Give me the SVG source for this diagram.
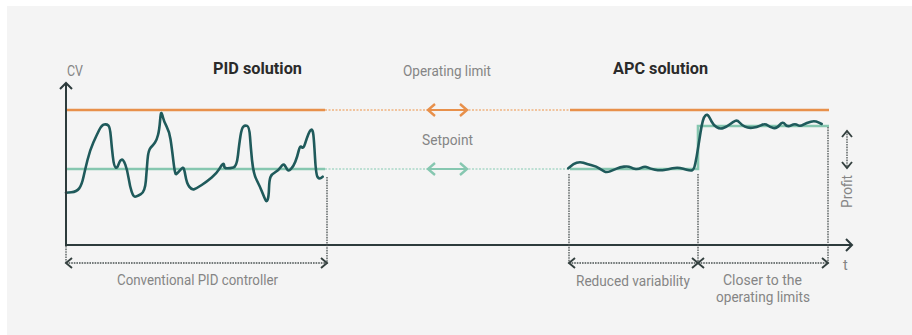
<svg xmlns="http://www.w3.org/2000/svg" width="912" height="335" viewBox="0 0 912 335">
  <style>
    .label { font-family: Roboto, "Liberation Sans", Arial, sans-serif; font-size: 14.5px; fill: #858585; }
    .title { font-family: Roboto, "Liberation Sans", Arial, sans-serif; font-size: 16.5px; font-weight: bold; fill: #2a2a2a; }
    .axis { stroke: #2d3b3c; stroke-width: 2; fill: none; }
    .limit { stroke: #e8904a; stroke-width: 2.6; fill: none; }
    .limit-dot { stroke: #efb27f; stroke-width: 1.6; stroke-dasharray: 2 1.5; fill: none; }
    .setpoint { stroke: #86c7b0; stroke-width: 2.6; fill: none; }
    .setpoint-dot { stroke: #a9d8c7; stroke-width: 1.6; stroke-dasharray: 2 1.5; fill: none; }
    .cv { stroke: #1f5a5b; stroke-width: 2.6; fill: none; stroke-linejoin: round; stroke-linecap: round; }
    .dim { stroke: #4a5252; stroke-width: 1.3; stroke-dasharray: 1.6 1; fill: none; }
  </style>
  <defs>
    <marker id="chev-dark" viewBox="-9 -7 11 14" markerWidth="11" markerHeight="14" markerUnits="userSpaceOnUse" refX="0" refY="0" orient="auto-start-reverse" overflow="visible">
      <path d="M-6,-5 L0,0 L-6,5" fill="none" stroke="#34403f" stroke-width="1.9"/>
    </marker>
    <marker id="chev-axis" viewBox="-9 -8 11 16" markerWidth="11" markerHeight="16" markerUnits="userSpaceOnUse" refX="0" refY="0" orient="auto" overflow="visible">
      <path d="M-6,-6 L0,0 L-6,6" fill="none" stroke="#2d3b3c" stroke-width="2"/>
    </marker>
    <marker id="chev-orange" viewBox="-9 -8 11 16" markerWidth="11" markerHeight="16" markerUnits="userSpaceOnUse" refX="0" refY="0" orient="auto-start-reverse" overflow="visible">
      <path d="M-7,-6 L0,0 L-7,6" fill="none" stroke="#e8904a" stroke-width="2.4"/>
    </marker>
    <marker id="chev-green" viewBox="-9 -8 11 16" markerWidth="11" markerHeight="16" markerUnits="userSpaceOnUse" refX="0" refY="0" orient="auto-start-reverse" overflow="visible">
      <path d="M-7,-6 L0,0 L-7,6" fill="none" stroke="#86c7b0" stroke-width="2.4"/>
    </marker>
  </defs>

  <!-- panel background -->
  <rect x="7" y="6" width="905" height="329" fill="#f4f4f4"/>

  <!-- reference levels: operating limit and setpoint -->
  <g id="levels">
    <line class="limit" x1="66" y1="110" x2="325" y2="110"/>
    <line class="limit-dot" x1="325" y1="110" x2="570" y2="110"/>
    <line class="limit" x1="570" y1="110" x2="829" y2="110"/>
    <line class="setpoint" x1="66" y1="169" x2="325" y2="169"/>
    <line class="setpoint-dot" x1="325" y1="169" x2="570" y2="169"/>
    <path class="setpoint" d="M570,169 H698 V126 H829"/>
  </g>

  <!-- controlled variable under PID control (smoothed through sample points) -->
  <g id="pid-curve">
    <path class="cv" d="M66,192.7 L71.35,192.2
      Q76.7,191.7 79.2,188.35 Q81.7,185 83.35,177.5 Q85,170 87.5,160 Q90,150 93.35,142.5
      Q96.7,135 99.2,130 Q101.7,125 104.2,124.5 Q106.7,124 108.35,125.5 Q110,127 110.85,136.85
      Q111.7,146.7 112.85,156.7 Q114,166.7 115.65,167.5 Q117.3,168.3 118.65,164.15 Q120,160 121.65,159.65
      Q123.3,159.3 125.3,164.65 Q127.3,170 128.65,178.35 Q130,186.7 131.65,191.7 Q133.3,196.7 135,196.7
      Q136.7,196.7 140.85,194.2 Q145,191.7 145.85,180.85 Q146.7,170 147.5,160 Q148.3,150 150.8,147.5
      Q153.3,145 155,142.5 Q156.7,140 158,135 Q159.3,130 160,121.35 Q160.7,112.7 161.35,113
      Q162,113.3 163,117.5 Q164,121.7 166.65,126.7 Q169.3,131.7 170.5,139.2 Q171.7,146.7 173.35,160.85
      Q175,175 176.15,174.15 Q177.3,173.3 179.5,170.8 Q181.7,168.3 182.85,167.8 Q184,167.3 185.35,175.3
      Q186.7,183.3 189.2,186.65 Q191.7,190 194.2,189.15 Q196.7,188.3 201.7,185 Q206.7,181.7 211.7,177.5
      Q216.7,173.3 219.2,169.15 Q221.7,165 222.85,164.15 Q224,163.3 224.15,165.8 Q224.3,168.3 227.15,168.3
      Q230,168.3 233.35,167.5 Q236.7,166.7 238,155 Q239.3,143.3 240.5,135.8 Q241.7,128.3 243.35,126.65
      Q245,125 247.15,125.85 Q249.3,126.7 250,136.7 Q250.7,146.7 252,160 Q253.3,173.3 256.65,180
      Q260,186.7 262,191.7 Q264,196.7 265.35,199.7 Q266.7,202.7 267.7,199.7 Q268.7,196.7 269,188.35
      Q269.3,180 270.5,177 Q271.7,174 275,172.35 Q278.3,170.7 280.8,167 Q283.3,163.3 284.65,165.3
      Q286,167.3 287.15,169.5 Q288.3,171.7 290.8,169.2 Q293.3,166.7 295.3,161.7 Q297.3,156.7 298.65,150.85
      Q300,145 301.65,147.15 Q303.3,149.3 305,143.8 Q306.7,138.3 308.35,134.15 Q310,130 311.35,129.65
      Q312.7,129.3 313.35,134.65 Q314,140 315,157.5 Q316,175 317.65,177.15 Q319.3,179.3 321,178
      L322.7,176.7"/>
  </g>

  <!-- controlled variable under APC (smoothed through sample points) -->
  <g id="apc-curve">
    <path class="cv" d="M568.3,168.3 L570.8,166.15
      Q573.3,164 576.65,162.85 Q580,161.7 583.35,162.85 Q586.7,164 591.7,165.35 Q596.7,166.7 599.2,168.35
      Q601.7,170 604.2,171.35 Q606.7,172.7 610,171.35 Q613.3,170 616.65,168.65 Q620,167.3 624.15,166.65
      Q628.3,166 630.8,167.35 Q633.3,168.7 635.8,169 Q638.3,169.3 641.65,167.65 Q645,166 647.5,167.35
      Q650,168.7 655,169.7 Q660,170.7 664.15,170 Q668.3,169.3 672.5,168.3 Q676.7,167.3 680,168
      Q683.3,168.7 686.65,169.7 Q690,170.7 692,170.35 Q694,170 695.35,163.35 Q696.7,156.7 698,148.35
      Q699.3,140 700.5,132.5 Q701.7,125 702.85,120.85 Q704,116.7 705.65,115.35 Q707.3,114 708.65,116.15
      Q710,118.3 711.65,121.65 Q713.3,125 716.65,127.15 Q720,129.3 723.35,128 Q726.7,126.7 730,124.2
      Q733.3,121.7 735.3,120.85 Q737.3,120 739.5,122.5 Q741.7,125 745,126.65 Q748.3,128.3 752.5,127.8
      Q756.7,127.3 760.85,125.3 Q765,123.3 767.5,125.3 Q770,127.3 773.35,128 Q776.7,128.7 779.7,124.85
      Q782.7,121 785,124.15 Q787.3,127.3 791.15,125.3 Q795,123.3 797.5,125 Q800,126.7 803.35,124.7
      Q806.7,122.7 810.85,121.7 Q815,120.7 818.35,122.35 L821.7,124"/>
  </g>

  <!-- axes -->
  <g id="axes">
    <line class="axis" x1="66" y1="246" x2="66" y2="83" marker-end="url(#chev-axis)"/>
    <line class="axis" x1="65" y1="245" x2="852" y2="245" marker-end="url(#chev-axis)"/>
  </g>

  <!-- connectors: level arrows, extents and profit -->
  <g id="connectors">
    <line x1="428" y1="110" x2="467" y2="110" stroke="#e8904a" stroke-width="2.2" marker-start="url(#chev-orange)" marker-end="url(#chev-orange)"/>
    <line x1="428" y1="169" x2="467" y2="169" stroke="#86c7b0" stroke-width="2.2" marker-start="url(#chev-green)" marker-end="url(#chev-green)"/>
    <line class="dim" x1="66" y1="246" x2="66" y2="264"/>
    <line class="dim" x1="327" y1="177" x2="327" y2="264"/>
    <line class="dim" x1="569" y1="174" x2="569" y2="264"/>
    <line class="dim" x1="698" y1="174" x2="698" y2="264"/>
    <line class="dim" x1="828" y1="127" x2="828" y2="264"/>
    <line class="dim" x1="66" y1="263" x2="327" y2="263" marker-start="url(#chev-dark)" marker-end="url(#chev-dark)"/>
    <line class="dim" x1="569" y1="263" x2="698" y2="263" marker-start="url(#chev-dark)" marker-end="url(#chev-dark)"/>
    <line class="dim" x1="698" y1="263" x2="828" y2="263" marker-start="url(#chev-dark)" marker-end="url(#chev-dark)"/>
    <line class="dim" x1="847" y1="131" x2="847" y2="168" marker-start="url(#chev-dark)" marker-end="url(#chev-dark)"/>
  </g>

  <!-- titles and labels -->
  <g id="pid-title"><text class="title" x="213" y="74" textLength="89" lengthAdjust="spacingAndGlyphs">PID solution</text></g>
  <g id="apc-title"><text class="title" x="613" y="74" textLength="95" lengthAdjust="spacingAndGlyphs">APC solution</text></g>
  <g id="cv-label"><text class="label" x="67" y="75.5" style="font-size:14.5px" textLength="16" lengthAdjust="spacingAndGlyphs">CV</text></g>
  <g id="t-label"><text class="label" x="843" y="270">t</text></g>
  <g id="limit-label"><text class="label" x="403" y="76" textLength="88" lengthAdjust="spacingAndGlyphs">Operating limit</text></g>
  <g id="setpoint-label"><text class="label" x="422" y="145" textLength="51" lengthAdjust="spacingAndGlyphs">Setpoint</text></g>
  <g id="pid-extent"><text class="label" x="117" y="285" textLength="161" lengthAdjust="spacingAndGlyphs">Conventional PID controller</text></g>
  <g id="variability-extent"><text class="label" x="576" y="285.5" textLength="114" lengthAdjust="spacingAndGlyphs">Reduced variability</text></g>
  <g id="closer-extent">
    <text class="label" x="723" y="285" textLength="79" lengthAdjust="spacingAndGlyphs">Closer to the</text>
    <text class="label" x="716" y="301.5" textLength="94" lengthAdjust="spacingAndGlyphs">operating limits</text>
  </g>
  <g id="profit-label"><text class="label" transform="translate(852,208) rotate(-90)" x="0" y="0" textLength="33" lengthAdjust="spacingAndGlyphs">Profit</text></g>
</svg>
